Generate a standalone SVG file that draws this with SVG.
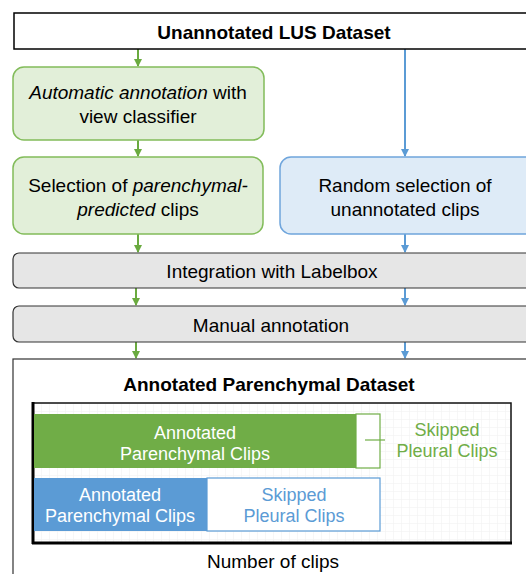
<svg xmlns="http://www.w3.org/2000/svg" width="526" height="574" viewBox="0 0 526 574">
<style>
text{font-family:"Liberation Sans",Arial,sans-serif;font-size:19px;fill:#000;text-anchor:middle}
.b{font-weight:bold}
.i{font-style:italic}
.g{fill:#e2efd9;stroke:#82bc5a;stroke-width:1.5}
.bl{fill:#deebf7;stroke:#6fa5dc;stroke-width:1.5}
.gr{fill:#e6e6e6;stroke:#333;stroke-width:1.2}
.cg{stroke:#6aaa3f;stroke-width:2;fill:none}
.cb{stroke:#5b9bd5;stroke-width:2;fill:none}
.w{fill:#fff}
.s{font-size:18px}
</style>
<defs>
<marker id="ag" markerWidth="8" markerHeight="8" refX="7" refY="4" orient="auto" markerUnits="userSpaceOnUse"><path d="M0,0 L8,4 L0,8 Z" fill="#6aaa3f"/></marker>
<marker id="ab" markerWidth="8" markerHeight="8" refX="7" refY="4" orient="auto" markerUnits="userSpaceOnUse"><path d="M0,0 L8,4 L0,8 Z" fill="#5b9bd5"/></marker>
<pattern id="grid" width="8" height="8" patternUnits="userSpaceOnUse" x="33" y="403"><path d="M8,0 L0,0 0,8" fill="none" stroke="#efefef" stroke-width="1"/></pattern>
</defs>
<rect width="526" height="574" fill="#fff"/>
<g id="connectors">
<line class="cg" x1="138" y1="49" x2="138" y2="66" marker-end="url(#ag)"/>
<line class="cb" x1="405" y1="49" x2="405" y2="156" marker-end="url(#ab)"/>
<line class="cg" x1="138" y1="140" x2="138" y2="156" marker-end="url(#ag)"/>
<line class="cg" x1="138" y1="234" x2="138" y2="252" marker-end="url(#ag)"/>
<line class="cb" x1="405" y1="234" x2="405" y2="252" marker-end="url(#ab)"/>
<line class="cg" x1="136" y1="288" x2="136" y2="305" marker-end="url(#ag)"/>
<line class="cb" x1="405" y1="288" x2="405" y2="305" marker-end="url(#ab)"/>
<line class="cg" x1="136" y1="342" x2="136" y2="358" marker-end="url(#ag)"/>
<line class="cb" x1="405" y1="342" x2="405" y2="358" marker-end="url(#ab)"/>
</g>
<g id="unannotated">
<rect x="14" y="13" width="520" height="36" fill="#fff" stroke="#000" stroke-width="1.5"/>
<text class="b" x="274" y="39">Unannotated LUS Dataset</text>
</g>
<g id="auto">
<rect class="g" x="13" y="67" width="251" height="73" rx="11"/>
<text x="138" y="99"><tspan class="i">Automatic annotation</tspan> with</text>
<text x="138" y="123">view classifier</text>
</g>
<g id="selection">
<rect class="g" x="13" y="157" width="250" height="77" rx="11"/>
<text x="138" y="192">Selection of <tspan class="i">parenchymal-</tspan></text>
<text x="138" y="216"><tspan class="i">predicted</tspan> clips</text>
</g>
<g id="random">
<rect class="bl" x="280" y="157" width="260" height="77" rx="11"/>
<text x="405" y="192">Random selection of</text>
<text x="405" y="216">unannotated clips</text>
</g>
<g id="integration">
<rect class="gr" x="13" y="253" width="530" height="35" rx="6"/>
<text x="272" y="278">Integration with Labelbox</text>
</g>
<g id="manual">
<rect class="gr" x="13" y="306" width="530" height="36" rx="6"/>
<text x="271" y="332">Manual annotation</text>
</g>
<g id="annotated">
<rect x="13" y="359" width="530" height="230" fill="#fff" stroke="#333" stroke-width="1.2"/>
<text class="b" x="269" y="391">Annotated Parenchymal Dataset</text>
<rect x="33" y="403" width="478" height="140" fill="url(#grid)" stroke="#111" stroke-width="1.5"/>
<line x1="33" y1="402" x2="33" y2="544" stroke="#000" stroke-width="3"/>
<line x1="32" y1="543" x2="512" y2="543" stroke="#000" stroke-width="3"/>
<rect x="34" y="414" width="322" height="54" fill="#70ad47"/>
<rect x="356" y="414" width="24" height="54" fill="#fff" stroke="#70ad47" stroke-width="1.2"/>
<line x1="365" y1="440" x2="385" y2="440" stroke="#70ad47" stroke-width="1.2"/>
<text class="s w" x="195" y="439">Annotated</text>
<text class="s w" x="195" y="460">Parenchymal Clips</text>
<text class="s" x="447" y="436" style="fill:#70ad47">Skipped</text>
<text class="s" x="447" y="457" style="fill:#70ad47">Pleural Clips</text>
<rect x="34" y="478" width="173" height="53" fill="#5b9bd5"/>
<rect x="207" y="478" width="173" height="53" fill="#fff" stroke="#5b9bd5" stroke-width="1.2"/>
<text class="s w" x="120" y="501">Annotated</text>
<text class="s w" x="120" y="522">Parenchymal Clips</text>
<text class="s" x="294" y="501" style="fill:#5b9bd5">Skipped</text>
<text class="s" x="294" y="522" style="fill:#5b9bd5">Pleural Clips</text>
<text x="273" y="568">Number of clips</text>
</g>
</svg>
